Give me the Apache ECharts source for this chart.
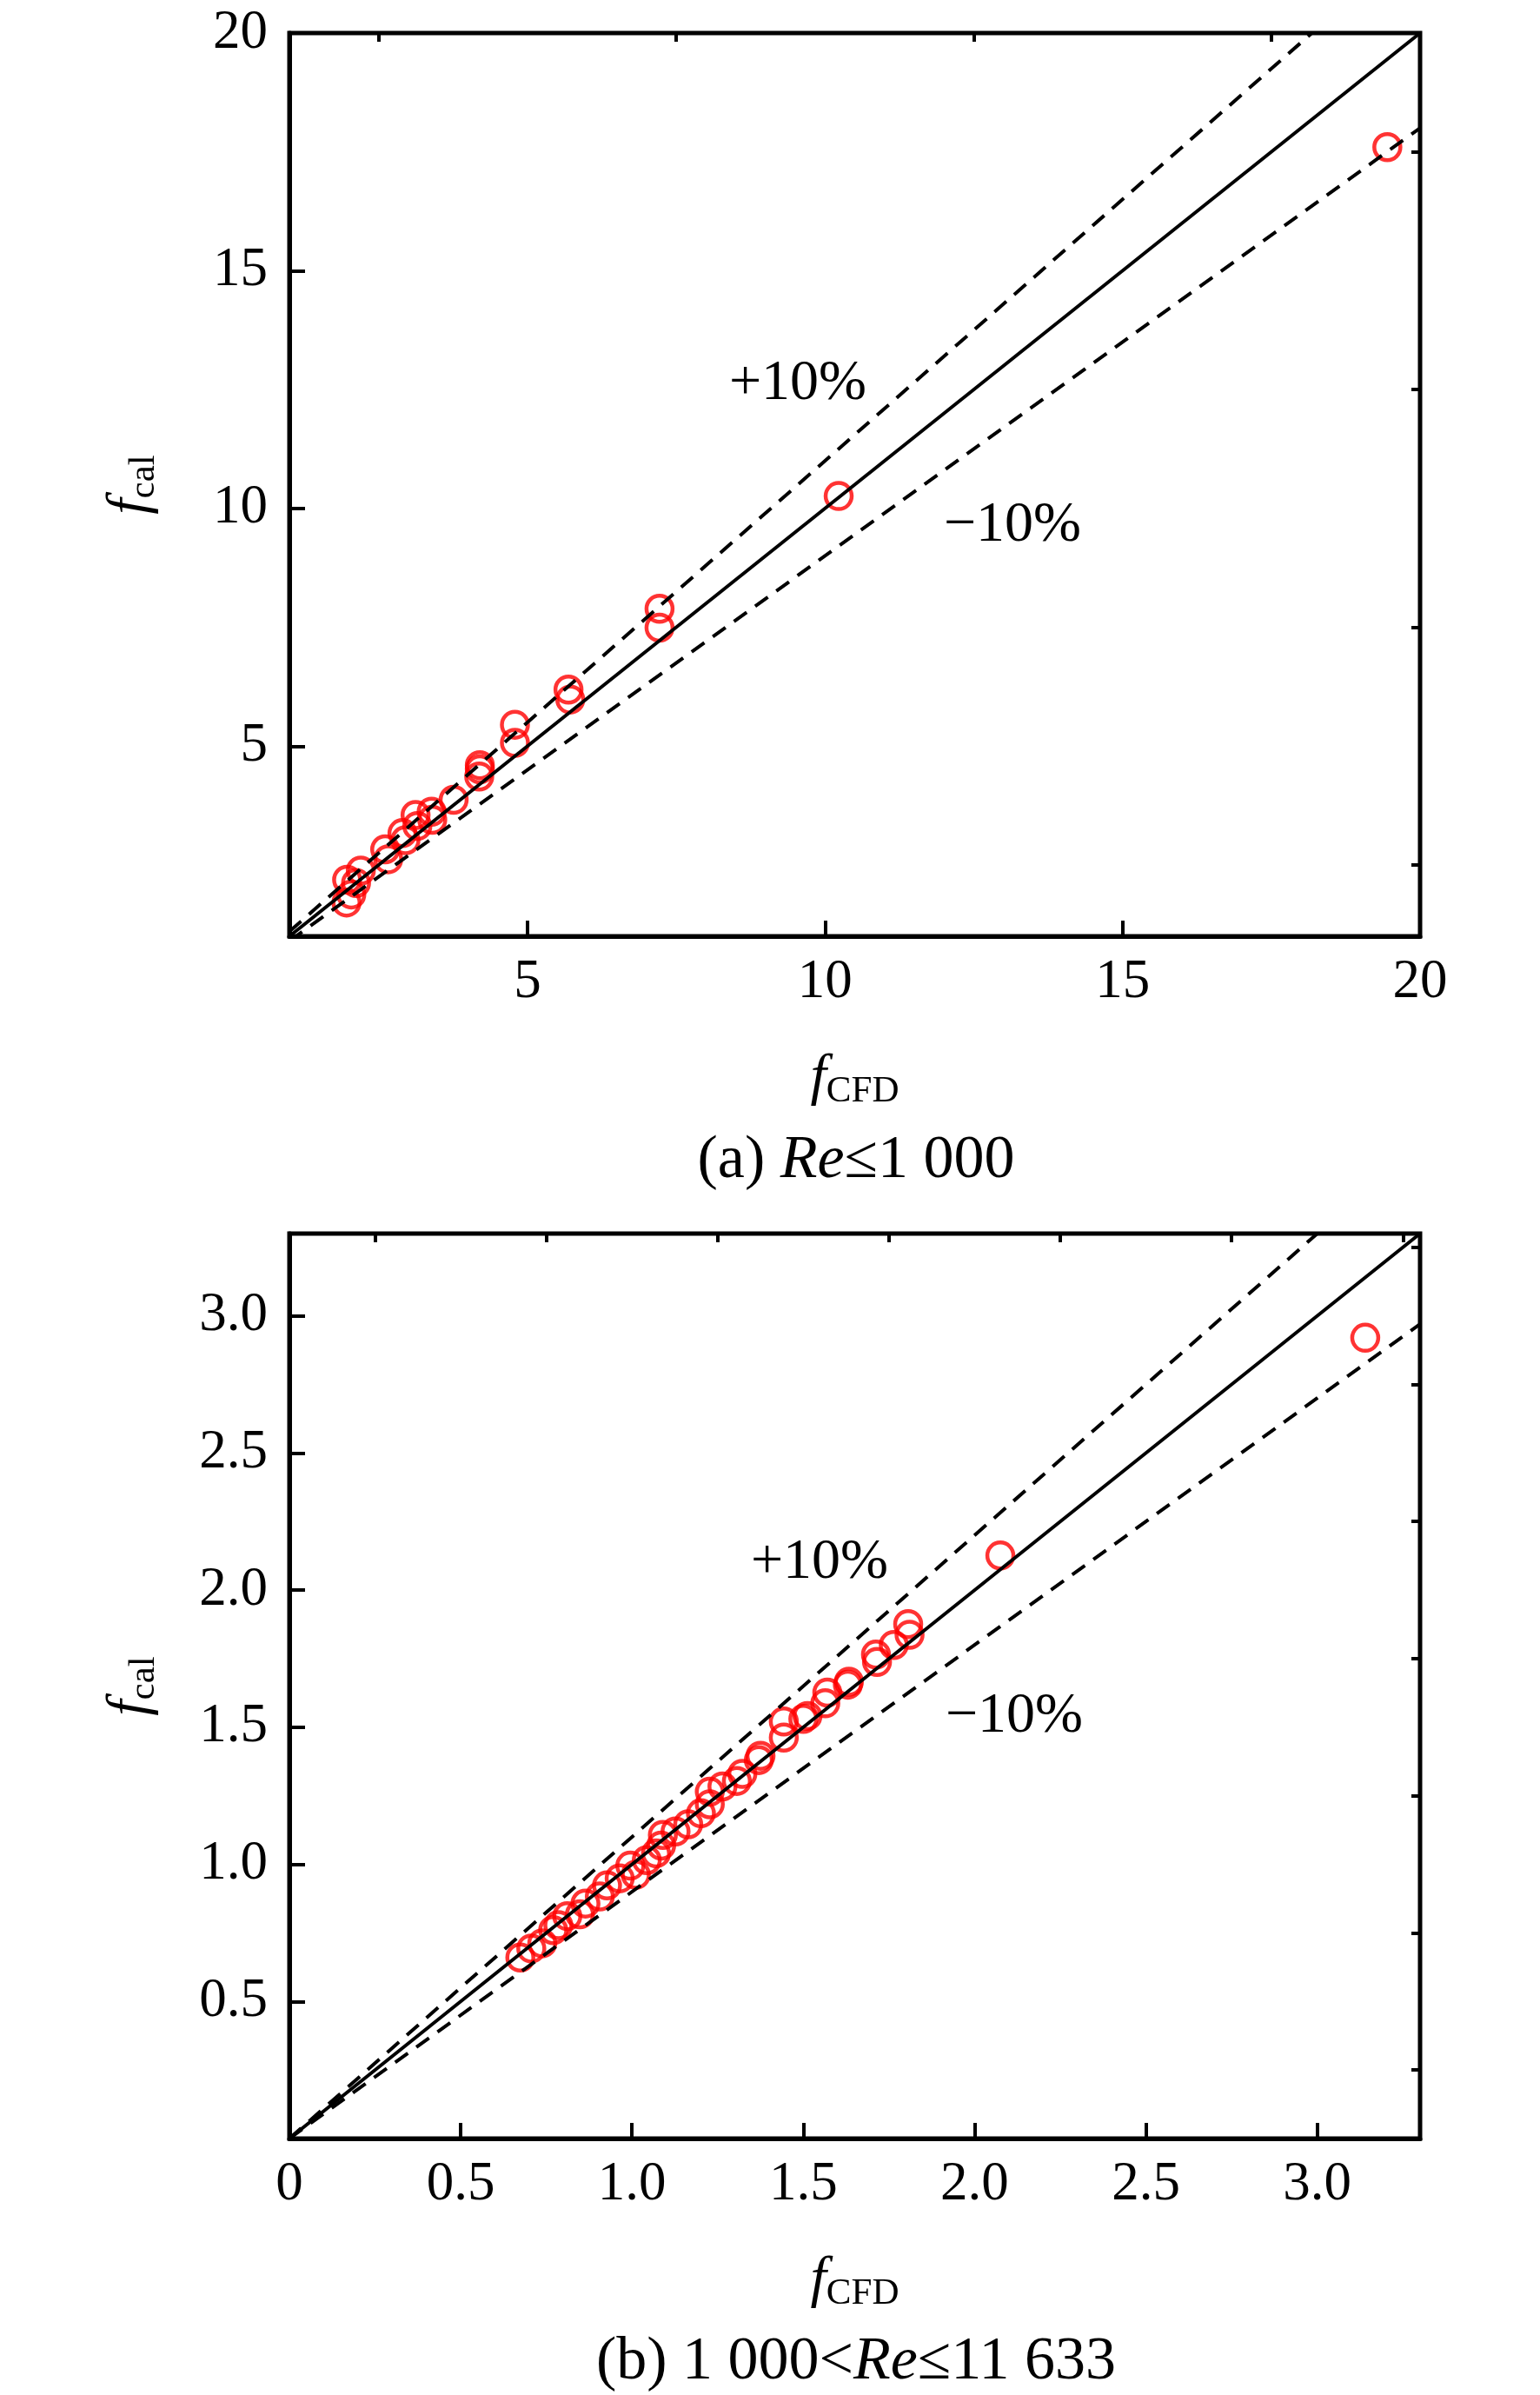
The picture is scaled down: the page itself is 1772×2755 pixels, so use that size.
<!DOCTYPE html>
<html>
<head>
<meta charset="utf-8">
<script src="https://cdn.jsdelivr.net/npm/echarts@6/dist/echarts.min.js"></script>
<style>
  html, body { margin: 0; padding: 0; background: #fff; }
  #chart { width: 1772px; height: 2755px; }
</style>
</head>
<body>
<div id="chart"></div>
<script>
// (a) Re <= 1000
const cfdA = [1.96, 2.04, 1.97, 2.12, 2.20, 2.61, 2.66, 2.90, 2.95, 3.12, 3.15, 3.39, 3.40, 3.76, 4.19, 4.20, 4.20, 4.79, 4.79, 5.69, 5.72, 7.22, 7.22, 10.23, 19.45];
const calA = [1.71, 1.88, 2.19, 2.12, 2.38, 2.83, 2.62, 3.17, 3.02, 3.55, 3.32, 3.62, 3.45, 3.87, 4.36, 4.51, 4.60, 5.07, 5.45, 6.19, 5.98, 7.49, 7.89, 10.26, 17.6];
// (b) 1000 < Re <= 11633
const cfdB = [0.674, 0.706, 0.738, 0.77, 0.785, 0.811, 0.848, 0.864, 0.906, 0.927, 0.964, 0.995, 1.011, 1.043, 1.07, 1.085, 1.09, 1.127, 1.164, 1.201, 1.227, 1.227, 1.264, 1.306, 1.322, 1.37, 1.375, 1.443, 1.443, 1.50, 1.512, 1.564, 1.570, 1.63, 1.633, 1.712, 1.715, 1.764, 1.806, 1.81, 2.075, 3.14];
const calB = [0.660, 0.693, 0.712, 0.76, 0.778, 0.811, 0.818, 0.857, 0.883, 0.923, 0.949, 0.995, 0.962, 1.015, 1.04, 1.068, 1.107, 1.12, 1.146, 1.186, 1.219, 1.265, 1.284, 1.304, 1.330, 1.38, 1.396, 1.462, 1.521, 1.53, 1.541, 1.587, 1.626, 1.655, 1.666, 1.765, 1.738, 1.80, 1.876, 1.837, 2.126, 2.92];

// y = x and +-10% guide lines, end points
const eqA = [[1, 1], [20, 20]];
const plusA = [[1, 1.1], [20, 22]];
const minusA = [[1, 0.9], [20, 18]];
const eqB = [[0, 0], [3.3, 3.3]];
const plusB = [[0, 0], [3.3, 3.63]];
const minusB = [[0, 0], [3.3, 2.97]];

// ticks
const majorA = [5, 10, 15, 20];
const minorA = [2.5, 7.5, 12.5, 17.5];
const majorB = [0, 0.5, 1.0, 1.5, 2.0, 2.5, 3.0];
const minorB = [0.25, 0.75, 1.25, 1.75, 2.25, 2.75, 3.25];
const yLabelsB = [0.5, 1.0, 1.5, 2.0, 2.5, 3.0];

const FONT = '"Liberation Serif", "Times New Roman", serif';
const chart = echarts.init(document.getElementById('chart'), null, {renderer: 'canvas'});

const nameStyle = {
  color: '#000',
  fontFamily: FONT,
  rich: {
    f: {fontSize: 66, fontStyle: 'italic', fontFamily: FONT, color: '#000', lineHeight: 72},
    s: {fontSize: 43, fontFamily: FONT, color: '#000', verticalAlign: 'bottom', lineHeight: 43}
  }
};

function majorAxis(grid, min, max, ticks, labels, fmt, isX, name) {
  return {
    type: 'value', gridIndex: grid, min: min, max: max,
    name: name, nameLocation: 'middle',
    nameGap: isX ? 128 : 146, nameRotate: isX ? 0 : 90,
    nameTextStyle: nameStyle,
    axisLine: {show: true, onZero: false, lineStyle: {color: '#000', width: 5}},
    axisTick: {show: true, inside: true, length: 18, lineStyle: {color: '#000', width: 4}, customValues: ticks},
    axisLabel: {show: true, customValues: labels, margin: isX ? 22 : 25, fontSize: 63, fontFamily: FONT, color: '#000', formatter: fmt},
    splitLine: {show: false}
  };
}
function minorAxis(grid, min, max, ticks) {
  return {
    type: 'value', gridIndex: grid, min: min, max: max,
    axisLine: {show: false, onZero: false},
    axisTick: {show: true, inside: true, length: 10, lineStyle: {color: '#000', width: 4}, customValues: ticks},
    axisLabel: {show: false},
    splitLine: {show: false}
  };
}
const fmtA = v => String(v);
const fmtB = v => (v === 0 ? '0' : v.toFixed(1));

function guide(data, xi, yi, dashed) {
  return {
    type: 'line', xAxisIndex: xi, yAxisIndex: yi, data: data,
    symbol: 'none', silent: true, clip: true, z: 3,
    lineStyle: {color: '#000', width: 4, type: dashed ? [18, 12] : 'solid'}
  };
}
function points(xs, ys, xi, yi) {
  return {
    type: 'scatter', xAxisIndex: xi, yAxisIndex: yi,
    data: xs.map((x, i) => [x, ys[i]]),
    symbol: 'circle', symbolSize: 30, z: 2,
    itemStyle: {color: 'rgba(0,0,0,0)', borderColor: '#ff0000', borderWidth: 4.5}
  };
}
function note(text, x, y) {
  return {type: 'text', x: x, y: y, z: 10,
    style: {text: text, fill: '#000', font: '66px ' + FONT, align: 'center', verticalAlign: 'middle'}};
}
function caption(text, x, y) {
  return {type: 'text', x: x, y: y, z: 10,
    style: {text: text, fill: '#000', font: '70px ' + FONT, align: 'center', verticalAlign: 'middle',
      rich: {it: {fontStyle: 'italic', fontSize: 70, fontFamily: FONT, fill: '#000'}}}};
}

chart.setOption({
  backgroundColor: '#fff',
  animation: false,
  grid: [
    {left: 333, top: 38, width: 1301, height: 1039, show: true, borderColor: '#000', borderWidth: 5},
    {left: 333, top: 1419, width: 1301, height: 1041, show: true, borderColor: '#000', borderWidth: 5}
  ],
  xAxis: [
    majorAxis(0, 1, 20, majorA, majorA, fmtA, true, '{f|f}{s|CFD}'),
    minorAxis(0, 1, 20, minorA),
    majorAxis(1, 0, 3.3, majorB, majorB, fmtB, true, '{f|f}{s|CFD}'),
    minorAxis(1, 0, 3.3, minorB)
  ],
  yAxis: [
    majorAxis(0, 1, 20, majorA, majorA, fmtA, false, '{f|f}{s|cal}'),
    minorAxis(0, 1, 20, minorA),
    majorAxis(1, 0, 3.3, majorB, yLabelsB, fmtB, false, '{f|f}{s|cal}'),
    minorAxis(1, 0, 3.3, minorB)
  ],
  series: [
    points(cfdA, calA, 0, 0),
    guide(eqA, 0, 0, false),
    guide(plusA, 0, 0, true),
    guide(minusA, 0, 0, true),
    points(cfdB, calB, 2, 2),
    guide(eqB, 2, 2, false),
    guide(plusB, 2, 2, true),
    guide(minusB, 2, 2, true)
  ],
  graphic: [
    note('+10%', 918, 442),
    note('\u221210%', 1165, 605),
    note('+10%', 943, 1798),
    note('\u221210%', 1167, 1975),
    caption('(a) {it|Re}\u22641 000', 985, 1336),
    caption('(b) 1 000<{it|Re}\u226411 633', 985, 2718)
  ]
});
</script>
</body>
</html>
